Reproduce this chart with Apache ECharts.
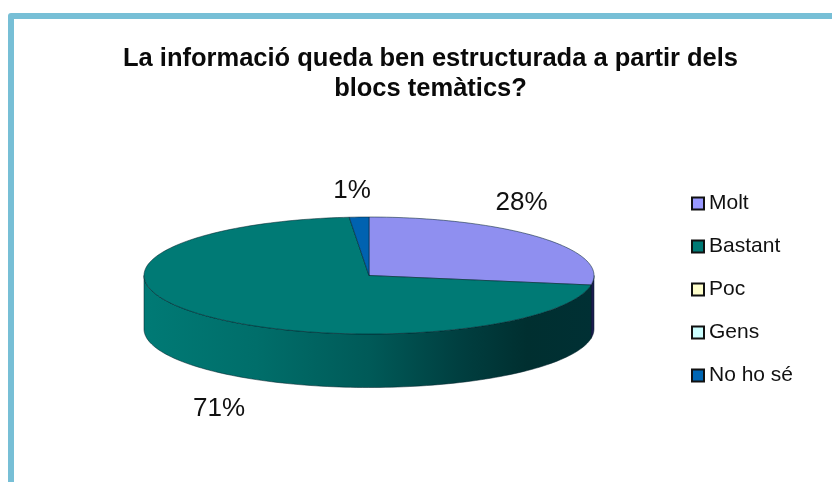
<!DOCTYPE html>
<html>
<head>
<meta charset="utf-8">
<style>html,body{margin:0;padding:0;background:#fff}#chart{width:832px;height:482px}</style>
<script src="https://cdn.jsdelivr.net/npm/echarts@6/dist/echarts.min.js"></script>
</head>
<body>
<div id="chart"></div>
<script>
const titleLines = ['La informació queda ben estructurada a partir dels', 'blocs temàtics?'];
const categories = ['Molt', 'Bastant', 'Poc', 'Gens', 'No ho sé'];
const shares = [27.6, 71.0, 0, 0, 1.4];

const colors = ['#8f8ff0', '#007a75', '#ffffcc', '#ccffff', '#0062b0'];
const legendColors = ['#9999ff', '#007a75', '#ffffcc', '#ccffff', '#0066b3'];
const labelOffsets = [[-19, -35], [15, 94], null, null, [-7, -26]];

const CX = 369, CY = 275.5, RX = 225, RY = 58.5, DEPTH = 53.5;
const total = shares.reduce((a, b) => a + b, 0);
const pt = (deg, dy) => {
  const r = deg * Math.PI / 180;
  return [CX + RX * Math.sin(r), CY - RY * Math.cos(r) + (dy || 0)];
};
const arc = (a, b, dy) => {
  const out = [];
  const n = Math.max(2, Math.ceil(Math.abs(b - a) / 1.5));
  for (let i = 0; i <= n; i++) out.push(pt(a + (b - a) * i / n, dy));
  return out;
};
const sideFill = {
  type: 'linear', x: CX - RX, y: 0, x2: CX + RX, y2: 0, global: true,
  colorStops: [
    { offset: 0, color: '#007a75' },
    { offset: 0.25, color: '#006e6a' },
    { offset: 0.5, color: '#005a58' },
    { offset: 0.7, color: '#003f40' },
    { offset: 0.85, color: '#002f30' },
    { offset: 1, color: '#003034' }
  ]
};
const outline = 'rgba(0,30,40,0.65)';

function sliceRenderer(index) {
  return function (params, api) {
    const value = api.value(0);
    if (!value) return { type: 'group', children: [] };
    const before = shares.slice(0, index).reduce((a, b) => a + b, 0);
    const a0 = before / total * 360, a1 = (before + value) / total * 360;
    const children = [];
    const s0 = Math.max(a0, 90), s1 = Math.min(a1, 270);
    if (s1 > s0) {
      children.push({
        type: 'polygon',
        shape: { points: arc(s0, s1, 0).concat(arc(s1, s0, DEPTH)) },
        style: { fill: index === 0 ? '#1c1c50' : sideFill, stroke: outline, lineWidth: 0.8 }
      });
    }
    children.push({
      type: 'polygon',
      shape: { points: [[CX, CY]].concat(arc(a0, a1, 0)) },
      style: { fill: colors[index], stroke: outline, lineWidth: 0.8 }
    });
    const mid = pt((a0 + a1) / 2, 0), off = labelOffsets[index];
    children.push({
      type: 'text',
      z2: 10,
      style: {
        x: mid[0] + off[0], y: mid[1] + off[1],
        text: Math.round(value / total * 100) + '%',
        fill: '#111', align: 'center', verticalAlign: 'middle',
        font: '26px "Liberation Sans", Arial, sans-serif'
      }
    });
    return { type: 'group', children };
  };
}

const chart = echarts.init(document.getElementById('chart'), null, { renderer: 'canvas' });
chart.setOption({
  animation: false,
  backgroundColor: '#ffffff',
  title: {
    text: titleLines.join('\n'),
    left: 425.5, top: 39, textAlign: 'center',
    textStyle: { fontFamily: '"Liberation Sans", Arial, sans-serif', fontWeight: 'bold', fontSize: 25.5, lineHeight: 30, color: '#0a0a0a' }
  },
  legend: {
    orient: 'vertical', left: 691, top: 192, padding: 0,
    itemWidth: 12, itemHeight: 12, itemGap: 20, icon: 'rect',
    selectedMode: false,
    textStyle: { fontFamily: '"Liberation Sans", Arial, sans-serif', fontSize: 21, color: '#111', lineHeight: 23 },
    data: categories.map((name, i) => ({
      name,
      itemStyle: { color: legendColors[i], borderColor: '#111', borderWidth: 2 }
    }))
  },
  graphic: [{
    type: 'polyline', silent: true,
    shape: { points: [[11, 482], [11, 16], [832, 16]] },
    style: { stroke: '#77bfd6', lineWidth: 6, fill: null, lineJoin: 'round' }
  }],
  series: categories.map((name, i) => ({
    type: 'custom', name, coordinateSystem: 'none', silent: true,
    itemStyle: { color: legendColors[i] },
    renderItem: sliceRenderer(i),
    data: [[shares[i]]]
  }))
});
</script>
</body>
</html>
